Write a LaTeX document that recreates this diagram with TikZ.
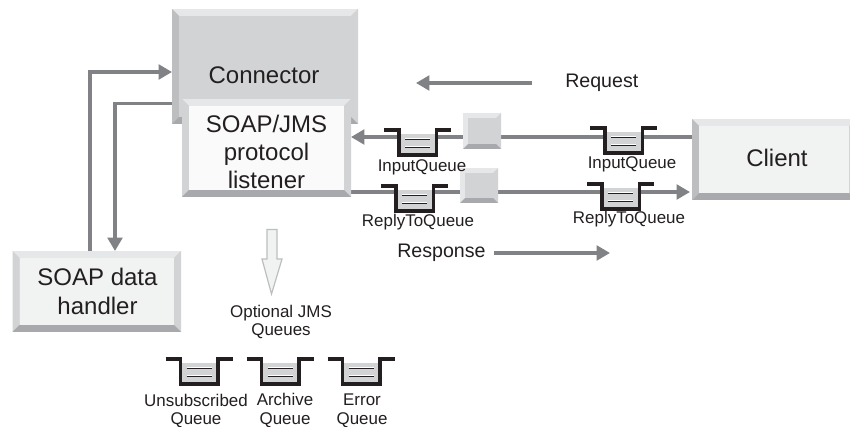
\documentclass[tikz,border=0pt]{standalone}
\usepackage{fontspec}
\setmainfont{Liberation Sans}
\usetikzlibrary{arrows.meta}
\definecolor{ink}{HTML}{231F20}
\definecolor{wire}{HTML}{808285}
\definecolor{faceA}{HTML}{D1D3D4}
\definecolor{faceB}{HTML}{F1F2F2}
\definecolor{faceC}{HTML}{FAFAFA}
\definecolor{bevTop}{HTML}{E6E7E8}
\definecolor{bevSide}{HTML}{BCBEC0}
\definecolor{bevDark}{HTML}{A7A9AC}
\colorlet{bevRight}{faceA}
\tikzset{
  x=0.75pt,y=-0.75pt,
  wireline/.style={draw=wire,line width=2.3pt},
  wirearrow/.style={wireline,-{Triangle[length=10pt,width=11pt,fill=wire]}},
  big/.style={text=ink,font=\fontsize{18}{21.2}\selectfont,align=center,inner sep=0pt},
  mid/.style={text=ink,font=\fontsize{14.7}{17}\selectfont,inner sep=0pt},
  small/.style={text=ink,font=\fontsize{12.7}{14}\selectfont,align=center,inner sep=0pt},
  tub/.style={draw=ink,line width=2.3pt,miter limit=10},
  tubline/.style={draw=ink,line width=0.9pt},
  tubglow/.style={draw=white,line width=0.7pt}
}
% name, x1, y1, x2, y2, bevel, face colour, left colour, top colour
\newcommand{\bevbox}[9]{%
  \fill[#9] (#2,#3) rectangle (#4,#5);
  \fill[#8] (#2,#3) -- (#2+#6,#3+#6) -- (#2+#6,#5-#6) -- (#2,#5) -- cycle;
  \fill[bevRight] (#4,#3) -- (#4-#6,#3+#6) -- (#4-#6,#5-#6) -- (#4,#5) -- cycle;
  \fill[bevDark] (#2,#5) -- (#2+#6,#5-#6) -- (#4-#6,#5-#6) -- (#4,#5) -- cycle;
  \node[fill=#7,inner sep=0pt,minimum width={(#4-#2-2*#6)*0.75pt},minimum height={(#5-#3-2*#6)*0.75pt},anchor=north west] (#1) at (#2+#6,#3+#6) {};
}
% name, centre x, lip y
\newcommand{\queue}[3]{%
  \node[fill=faceA,inner sep=0pt,minimum width=28.5pt,minimum height=15.5pt,anchor=north] (#1) at (#2,#3+4) {};
  \draw[tubglow] (#2-12.5,#3+8.5) -- (#2+12.5,#3+8.5);
  \draw[tubglow] (#2-12.5,#3+16.5) -- (#2+12.5,#3+16.5);
  \draw[tubline] (#2-12.5,#3+9.5) -- (#2+12.5,#3+9.5);
  \draw[tubline] (#2-12.5,#3+17.5) -- (#2+12.5,#3+17.5);
  \draw[tub] (#2-33.5,#3) -- (#2-18.5,#3) -- (#2-18.5,#3+25) -- (#2+19,#3+25) -- (#2+19,#3) -- (#2+33.5,#3);
}
\begin{document}
\begin{tikzpicture}
\useasboundingbox (0,0) rectangle (850,427);
\fill[white] (0,0) rectangle (850,427);

% main boxes
\bevbox{connector}{172}{9}{358}{124}{7}{faceA}{bevSide}{bevTop}
\node[big] (connectorlabel) at (264,75) {Connector};
\bevbox{handler}{12.5}{251}{181}{332}{7}{faceB}{faceA}{bevTop}
\node[big] (handlerlabel) at (97.5,291.5) {SOAP data\\handler};
\bevbox{client}{692}{119}{856}{200}{7}{faceB}{bevSide}{bevTop}
\node[big] (clientlabel) at (777,157.5) {Client};

% connectors behind the queues
\coordinate (clientIn) at (692,137);
\coordinate (listenIn) at (351,137);
\coordinate (listenOut) at (350,192);
\coordinate (clientOut) at (690,192);
\draw[wirearrow] (clientIn) -- (listenIn);
\draw[wirearrow] (listenOut) -- (clientOut);

\bevbox{listener}{182}{99}{351}{197}{7}{faceC}{faceA}{bevTop}
\node[big] (listenerlabel) at (266.5,152) {SOAP/JMS\\protocol\\listener};

% handler / connector links
\coordinate (hUp) at (90,251);
\coordinate (cIn) at (172,72);
\coordinate (cOut) at (172,103.5);
\coordinate (hIn) at (115,251);
\draw[wirearrow] (hUp) |- (cIn);
\draw[wirearrow] (cOut) -| (hIn);

% queues on the wires
\queue{qInA}{417.5}{130}
\queue{qInB}{623.5}{128}
\queue{qReplyA}{414.5}{186}
\queue{qReplyB}{620.5}{184}
\bevbox{msgA}{463}{113}{501}{149}{5}{faceA}{bevTop}{bevTop}
\bevbox{msgB}{460}{168}{498}{203}{5}{faceA}{bevTop}{bevTop}

\node[small] (lInA) at (422,167) {InputQueue};
\node[small] (lInB) at (632,164) {InputQueue};
\node[small] (lReplyA) at (418,222) {ReplyToQueue};
\node[small] (lReplyB) at (629,219.5) {ReplyToQueue};

% request / response
\node[mid,anchor=west] (request) at (565,83) {Request};
\coordinate (reqStart) at (532,83);
\coordinate (reqTip) at (416,83);
\draw[wirearrow] (reqStart) -- (reqTip);
\node[mid,anchor=west] (response) at (397,252.5) {Response};
\coordinate (respStart) at (494,253);
\coordinate (respTip) at (610,253);
\draw[wirearrow] (respStart) -- (respTip);

% hollow arrow
\draw[draw=bevSide,fill=faceB,line width=0.9pt] (267,229.5) -- (277,229.5) -- (277,259) -- (282,259) -- (271.5,294) -- (262,259) -- (267,259) -- cycle;

% optional queues
\node[small] (optional) at (281,322) {Optional JMS\\Queues};
\queue{qUnsub}{199}{359}
\queue{qArchive}{280}{359}
\queue{qError}{361}{359}
\node[small] (lUnsub) at (196,411) {Unsubscribed\\Queue};
\node[small] (lArchive) at (285,410.5) {Archive\\Queue};
\node[small] (lError) at (362,411) {Error\\Queue};
\end{tikzpicture}
\end{document}
